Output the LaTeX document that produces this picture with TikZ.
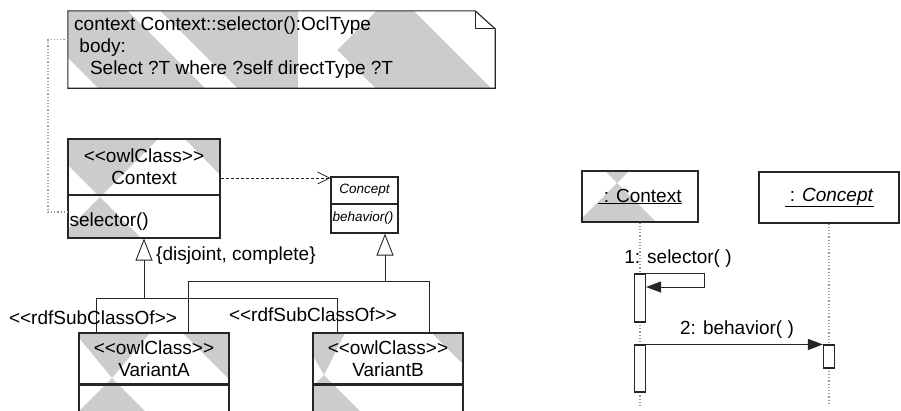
\documentclass[tikz,border=0pt]{standalone}
\usepackage{fontspec}
\setmainfont{Liberation Sans}
\usetikzlibrary{arrows.meta}
\newcommand{\stereo}[1]{<\kern0pt<#1>\kern0pt>}

\begin{document}
\begin{tikzpicture}[x=1pt, y=-1pt, font=\fontsize{19}{22}\selectfont,
	box/.style={draw=black!85, line width=1.1pt, inner sep=0pt},
	small/.style={font=\fontsize{13.5}{16}\selectfont\itshape},
	dotline/.style={gray!80, line width=1.2pt, dash pattern=on 1.2pt off 2pt},
	dep/.style={black!85, line width=0.8pt, dash pattern=on 3pt off 2pt, -{Straight Barb[length=12pt,width=12pt]}},
	gen/.style={black!85, line width=0.9pt},
	msg/.style={black!85, line width=0.9pt, -{Triangle[length=15pt,width=11pt]}}]
			\useasboundingbox (0,0) rectangle (901,410);
			\clip (0,0) rectangle (901,410);
			% grey shading of the boxes
			\begin{scope}
				\clip (68,11) -- (475,11) -- (495,29) -- (495,88) -- (68,88) -- cycle;
				\fill[gray!40] (68,11) rectangle (495,88);
				\fill[white] (68,58) -- (68,88) -- (98,88) -- cycle;
				\fill[white] (128,11) -- (160,11) -- (237,88) -- (205,88) -- cycle;
				\fill[white] (298,11) -- (376,11) -- (337,50) -- (376,89) -- (298,89) -- cycle;
				\fill[white] (414,11) -- (500,11) -- (500,88) -- (491,88) -- cycle;
			\end{scope}
			\begin{scope}
				\clip (68,139) rectangle (220,238);
				\fill[gray!40] (42,139) -- (158,139) -- (100,197) -- cycle;
				\fill[gray!40] (100,197) -- (145,242) -- (55,242) -- cycle;
				\fill[gray!40] (185,139) -- (225,139) -- (225,180) -- cycle;
			\end{scope}
			\begin{scope}
				\clip (79,333) rectangle (229,415);
				\fill[gray!40] (75,333) -- (150,333) -- (112,378) -- cycle;
				\fill[gray!40] (112,378) -- (150,416) -- (74,416) -- cycle;
				\fill[gray!40] (183,333) -- (235,333) -- (235,385) -- cycle;
			\end{scope}
			\begin{scope}
				\clip (313,333) rectangle (463,415);
				\fill[gray!40] (300,333) -- (345,333) -- (324,375) -- cycle;
				\fill[gray!40] (324,375) -- (364,415) -- (284,415) -- cycle;
				\fill[gray!40] (432,333) -- (468,333) -- (468,369) -- cycle;
			\end{scope}
			\begin{scope}
				\clip (582,171) rectangle (698,222);
				\fill[gray!40] (605,171) -- (629,171) -- (617,183) -- cycle;
				\fill[gray!40] (617,183) -- (657,223) -- (577,223) -- cycle;
			\end{scope}
			% OCL note
			\node[inner sep=0pt, minimum width=427, minimum height=77] (note) at (281.5,49.5) {};
			\draw[box] (note.south west) -- (note.north west) -- ([xshift=-20pt]note.north east)
				-- ([yshift=-18pt]note.north east) -- (note.south east) -- cycle;
			\draw[box] ([xshift=-20pt]note.north east) |- ([yshift=-18pt]note.north east);
			\node[anchor=base west, inner sep=0pt] (noteA) at (74,30) {context Context::selector():OclType};
			\node[anchor=base west, inner sep=0pt] (noteB) at (74,52) {\ body:};
			\node[anchor=base west, inner sep=0pt] (noteC) at (74,74) {\ \ \ Select ?T where ?self directType ?T};
			% classes
			\node[box, minimum width=152, minimum height=56, align=center] (ctx) at (144,167) {\stereo{owlClass}\\Context};
			\node[box, minimum width=152, minimum height=43] (ctxops) at (144,216.5) {};
			\node[anchor=west, inner sep=2pt] (ctxsel) at ([yshift=-5pt]ctxops.west) {selector()};
			\node[box, small, minimum width=67, minimum height=27] (con) at (364.5,190.5) {Concept};
			\node[box, minimum width=67, minimum height=29] (conops) at (364.5,218.5) {};
			\node[small, anchor=west, inner sep=2pt] (conbeh) at (conops.west) {behavior()};
			\node[box, minimum width=150, minimum height=51, align=center] (varA) at (154,358.5) {\stereo{owlClass}\\VariantA};
			\node[box, minimum width=150, minimum height=40, anchor=north] (varAops) at (varA.south) {};
			\node[box, minimum width=150, minimum height=51, align=center] (varB) at (388,358.5) {\stereo{owlClass}\\VariantB};
			\node[box, minimum width=150, minimum height=40, anchor=north] (varBops) at (varB.south) {};
			% relations
			\coordinate (noteturn) at (48,212);
			\draw[dotline] ([yshift=10pt]note.west) -| (noteturn) -- (noteturn -| ctxops.west);
			\draw[dep] ([yshift=-11pt]ctx.east) -- ([yshift=-11pt]ctx.east -| con.west);
			\coordinate (jA) at (144,298);
			\coordinate (jB) at (385,281);
			\draw[gen, -{Triangle[open, length=22pt, width=17pt]}] (jA) -- (ctxops.south);
			\draw[gen] ([xshift=18pt]varA.north west) |- (jA);
			\draw[gen] ([xshift=25pt]varB.north west) |- (jA);
			\draw[gen, -{Triangle[open, length=22pt, width=17pt]}] (jB) -- ([xshift=20.5pt]conops.south);
			\draw[gen] ([xshift=110pt]varA.north west) |- (jB);
			\draw[gen] ([xshift=117pt]varB.north west) |- (jB);
			\node[anchor=west, inner sep=2pt] (gset) at (154,256) {\{disjoint, complete\}};
			\node (relA) at (93,318) {\stereo{rdfSubClassOf}};
			\node (relB) at (313,315) {\stereo{rdfSubClassOf}};
			% sequence
			\node[box, minimum width=116, minimum height=51] (ctxobj) at (640,196.5) {\underline{\ : Context}};
			\node[box, minimum width=140, minimum height=51] (conobj) at (829,197.5) {\underline{\ : \textit{Concept}}};
			\coordinate (ctxend) at (640,405);
			\coordinate (conend) at (829,405);
			\draw[dotline] (ctxobj.south) -- (ctxend);
			\draw[dotline] (conobj.south) -- (conend);
			\node[box, fill=white, minimum width=11, minimum height=48] (actA) at (640,298) {};
			\node[box, fill=white, minimum width=11, minimum height=47] (actB) at (640,368.5) {};
			\node[box, fill=white, minimum width=11, minimum height=23] (actC) at (829,356.5) {};
			\coordinate (selfturn) at (704,287);
			\draw[msg] (actA.north east) -| (selfturn) -- (selfturn -| actA.east);
			\node (lblA) at (678,259) {1: selector( )};
			\draw[msg] (actB.north east) -- (actC.north west);
			\node (lblB) at (737,330) {2: behavior( )};
		\end{tikzpicture}
\end{document}
